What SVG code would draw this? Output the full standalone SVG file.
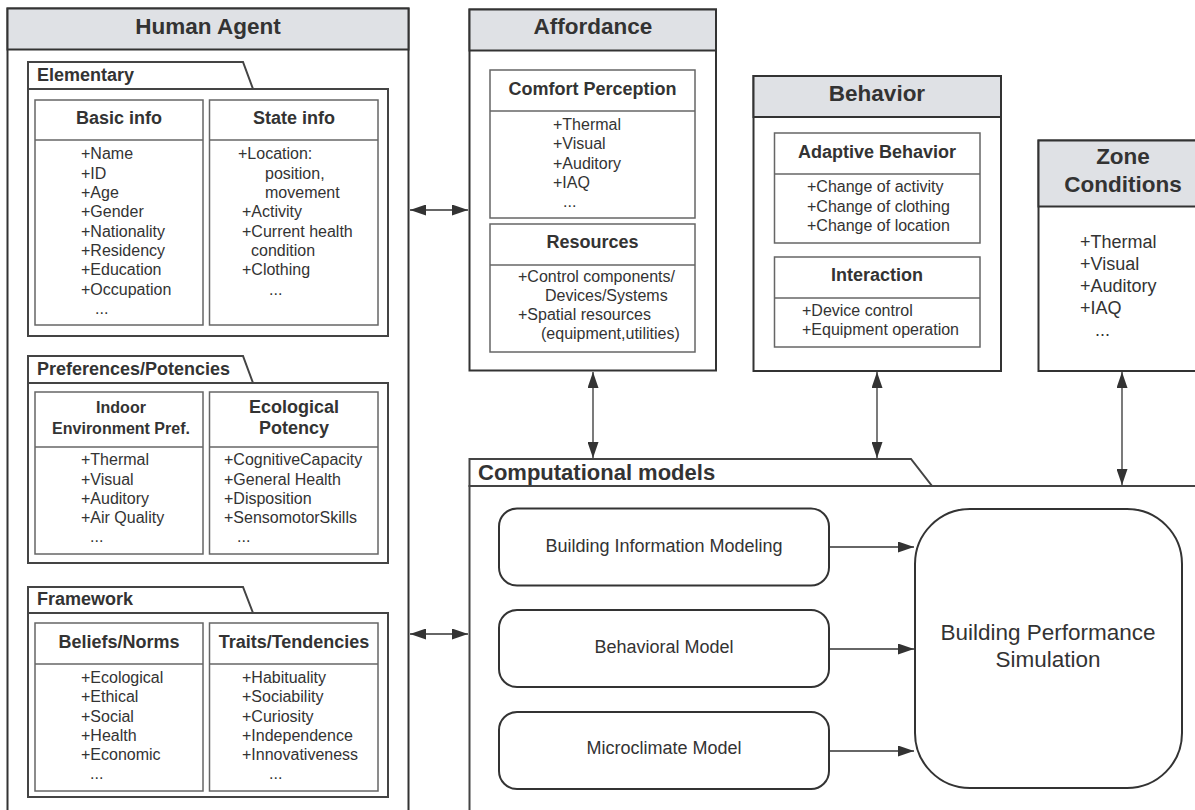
<svg xmlns="http://www.w3.org/2000/svg" width="1195" height="810" viewBox="0 0 1195 810">
<defs>
<style>
text{font-family:"Liberation Sans",Arial,sans-serif;fill:#333}
.h{font-size:22.5px;font-weight:bold;text-anchor:middle}
.t{font-size:18px;font-weight:bold;text-anchor:middle}
.t16{font-size:16px;font-weight:bold;text-anchor:middle}
.pk{font-size:18px;font-weight:bold}
.it{font-size:16px}
.zi{font-size:18px}
.m{font-size:18px;text-anchor:middle}
.big{font-size:22.5px;text-anchor:middle}
.outer{fill:#fff;stroke:#333;stroke-width:2}
.hdr{fill:#dfe1e5;stroke:#333;stroke-width:2}
.pkg{fill:#fff;stroke:#444;stroke-width:2}
.box{fill:#fff;stroke:#666;stroke-width:1.5}
.ln{stroke:#666;stroke-width:1.5}
.rr{fill:#fff;stroke:#333;stroke-width:2}
.c{stroke:#333;stroke-width:1.3;fill:none}
</style>
<marker id="ah" viewBox="0 0 10 10" refX="10" refY="5" markerWidth="16" markerHeight="11" markerUnits="userSpaceOnUse" orient="auto-start-reverse" preserveAspectRatio="none">
<path d="M0,0 L10,5 L0,10 Z" fill="#333"/>
</marker>
</defs>

<g id="human-agent">
<rect class="outer" x="7.5" y="8.5" width="401" height="815"/>
<rect class="hdr" x="7.5" y="8.5" width="401" height="41"/>
<text class="h" x="208" y="34">Human Agent</text>

<g id="elementary">
<polygon class="pkg" points="28,89 28,62 243,62 253,89"/>
<rect class="pkg" x="28" y="89" width="360" height="247"/>
<text class="pk" x="37" y="81">Elementary</text>
<g id="basic-info">
<rect class="box" x="35" y="100" width="168" height="225"/>
<line class="ln" x1="35" y1="140" x2="203" y2="140"/>
<text class="t" x="119" y="124">Basic info</text>
<text class="it" x="81" y="159">+Name</text>
<text class="it" x="81" y="178.5">+ID</text>
<text class="it" x="81" y="198">+Age</text>
<text class="it" x="81" y="217">+Gender</text>
<text class="it" x="81" y="236.5">+Nationality</text>
<text class="it" x="81" y="256">+Residency</text>
<text class="it" x="81" y="275">+Education</text>
<text class="it" x="81" y="295">+Occupation</text>
<text class="it" x="95" y="314">...</text>
</g>
<g id="state-info">
<rect class="box" x="209.5" y="100" width="168.5" height="225"/>
<line class="ln" x1="209.5" y1="140" x2="378" y2="140"/>
<text class="t" x="294" y="124">State info</text>
<text class="it" x="238" y="159">+Location:</text>
<text class="it" x="265" y="178.5">position,</text>
<text class="it" x="265" y="198">movement</text>
<text class="it" x="242" y="217">+Activity</text>
<text class="it" x="242" y="236.5">+Current health</text>
<text class="it" x="251" y="256">condition</text>
<text class="it" x="242" y="275">+Clothing</text>
<text class="it" x="269" y="295">...</text>
</g>
</g>

<g id="preferences">
<polygon class="pkg" points="28,383 28,356 243,356 253,383"/>
<rect class="pkg" x="28" y="383" width="360" height="180"/>
<text class="pk" x="37" y="375">Preferences/Potencies</text>
<g id="indoor-pref">
<rect class="box" x="35" y="392" width="168" height="162"/>
<line class="ln" x1="35" y1="447" x2="203" y2="447"/>
<text class="t16" x="121" y="413">Indoor</text>
<text class="t16" x="121" y="434">Environment Pref.</text>
<text class="it" x="81" y="465">+Thermal</text>
<text class="it" x="81" y="484.5">+Visual</text>
<text class="it" x="81" y="504">+Auditory</text>
<text class="it" x="81" y="523">+Air Quality</text>
<text class="it" x="90" y="542">...</text>
</g>
<g id="ecological-potency">
<rect class="box" x="209.5" y="392" width="168.5" height="162"/>
<line class="ln" x1="209.5" y1="447" x2="378" y2="447"/>
<text class="t" x="294" y="413">Ecological</text>
<text class="t" x="294" y="434">Potency</text>
<text class="it" x="224" y="465">+CognitiveCapacity</text>
<text class="it" x="224" y="484.5">+General Health</text>
<text class="it" x="224" y="504">+Disposition</text>
<text class="it" x="224" y="523">+SensomotorSkills</text>
<text class="it" x="237" y="542">...</text>
</g>
</g>

<g id="framework">
<polygon class="pkg" points="28,613 28,587 243,587 253,613"/>
<rect class="pkg" x="28" y="613" width="360" height="184"/>
<text class="pk" x="37" y="605">Framework</text>
<g id="beliefs-norms">
<rect class="box" x="35" y="623" width="168" height="168"/>
<line class="ln" x1="35" y1="664" x2="203" y2="664"/>
<text class="t" x="119" y="648">Beliefs/Norms</text>
<text class="it" x="81" y="683">+Ecological</text>
<text class="it" x="81" y="702">+Ethical</text>
<text class="it" x="81" y="721.5">+Social</text>
<text class="it" x="81" y="741">+Health</text>
<text class="it" x="81" y="760">+Economic</text>
<text class="it" x="90" y="779">...</text>
</g>
<g id="traits">
<rect class="box" x="209.5" y="623" width="168.5" height="168"/>
<line class="ln" x1="209.5" y1="664" x2="378" y2="664"/>
<text class="t" x="294" y="648">Traits/Tendencies</text>
<text class="it" x="242" y="683">+Habituality</text>
<text class="it" x="242" y="702">+Sociability</text>
<text class="it" x="242" y="721.5">+Curiosity</text>
<text class="it" x="242" y="741">+Independence</text>
<text class="it" x="242" y="760">+Innovativeness</text>
<text class="it" x="269" y="779">...</text>
</g>
</g>
</g>

<g id="affordance">
<rect class="outer" x="469.5" y="9.5" width="246.5" height="361"/>
<rect class="hdr" x="469.5" y="9.5" width="246.5" height="41"/>
<text class="h" x="593" y="34">Affordance</text>
<g id="comfort-perception">
<rect class="box" x="490" y="70" width="205" height="148"/>
<line class="ln" x1="490" y1="111" x2="695" y2="111"/>
<text class="t" x="592.5" y="95">Comfort Perception</text>
<text class="it" x="553" y="130">+Thermal</text>
<text class="it" x="553" y="149">+Visual</text>
<text class="it" x="553" y="168.5">+Auditory</text>
<text class="it" x="553" y="188">+IAQ</text>
<text class="it" x="563" y="207">...</text>
</g>
<g id="resources">
<rect class="box" x="490" y="224" width="205" height="128"/>
<line class="ln" x1="490" y1="265" x2="695" y2="265"/>
<text class="t" x="592.5" y="248">Resources</text>
<text class="it" x="518" y="282">+Control components/</text>
<text class="it" x="545" y="301">Devices/Systems</text>
<text class="it" x="518" y="320">+Spatial resources</text>
<text class="it" x="541" y="339">(equipment,utilities)</text>
</g>
</g>

<g id="behavior">
<rect class="outer" x="753.5" y="76" width="247.5" height="295"/>
<rect class="hdr" x="753.5" y="76" width="247.5" height="41"/>
<text class="h" x="877" y="101">Behavior</text>
<g id="adaptive-behavior">
<rect class="box" x="774.5" y="133" width="205.5" height="110"/>
<line class="ln" x1="774.5" y1="174" x2="980" y2="174"/>
<text class="t" x="877" y="158">Adaptive Behavior</text>
<text class="it" x="807" y="192">+Change of activity</text>
<text class="it" x="807" y="211.5">+Change of clothing</text>
<text class="it" x="807" y="231">+Change of location</text>
</g>
<g id="interaction">
<rect class="box" x="774.5" y="257" width="205.5" height="90"/>
<line class="ln" x1="774.5" y1="298" x2="980" y2="298"/>
<text class="t" x="877" y="281">Interaction</text>
<text class="it" x="802" y="316">+Device control</text>
<text class="it" x="802" y="335">+Equipment operation</text>
</g>
</g>

<g id="zone-conditions">
<rect class="outer" x="1038.5" y="140.5" width="170" height="230.5"/>
<rect class="hdr" x="1038.5" y="140.5" width="170" height="66"/>
<text class="h" x="1123" y="164">Zone</text>
<text class="h" x="1123" y="192">Conditions</text>
<text class="zi" x="1080" y="248">+Thermal</text>
<text class="zi" x="1080" y="270">+Visual</text>
<text class="zi" x="1080" y="292">+Auditory</text>
<text class="zi" x="1080" y="314">+IAQ</text>
<text class="zi" x="1095" y="336">...</text>
</g>

<g id="computational-models">
<polygon class="pkg" points="469.5,486 469.5,459 911,459 932,486"/>
<rect class="pkg" x="469.5" y="486" width="740" height="340"/>
<text x="478" y="480" style="font-size:22px;font-weight:bold">Computational models</text>
<g id="bim">
<rect class="rr" x="499" y="508.5" width="330" height="77" rx="18"/>
<text class="m" x="664" y="552">Building Information Modeling</text>
</g>
<g id="behavioral-model">
<rect class="rr" x="499" y="610" width="330" height="77" rx="18"/>
<text class="m" x="664" y="653">Behavioral Model</text>
</g>
<g id="microclimate-model">
<rect class="rr" x="499" y="712" width="330" height="77" rx="18"/>
<text class="m" x="664" y="754">Microclimate Model</text>
</g>
<g id="bps">
<rect class="rr" x="915" y="509" width="267" height="279" rx="55"/>
<text class="big" x="1048" y="640">Building Performance</text>
<text class="big" x="1048" y="667">Simulation</text>
</g>
</g>

<g id="connectors">
<line class="c" x1="410" y1="210" x2="468" y2="210" marker-start="url(#ah)" marker-end="url(#ah)"/>
<line class="c" x1="410" y1="634" x2="468" y2="634" marker-start="url(#ah)" marker-end="url(#ah)"/>
<line class="c" x1="593" y1="372" x2="593" y2="458" marker-start="url(#ah)" marker-end="url(#ah)"/>
<line class="c" x1="877" y1="372" x2="877" y2="458" marker-start="url(#ah)" marker-end="url(#ah)"/>
<line class="c" x1="1122" y1="372" x2="1122" y2="485" marker-start="url(#ah)" marker-end="url(#ah)"/>
<line class="c" x1="829" y1="547" x2="914" y2="547" marker-end="url(#ah)"/>
<line class="c" x1="829" y1="649" x2="914" y2="649" marker-end="url(#ah)"/>
<line class="c" x1="829" y1="751" x2="914" y2="751" marker-end="url(#ah)"/>
</g>
</svg>
